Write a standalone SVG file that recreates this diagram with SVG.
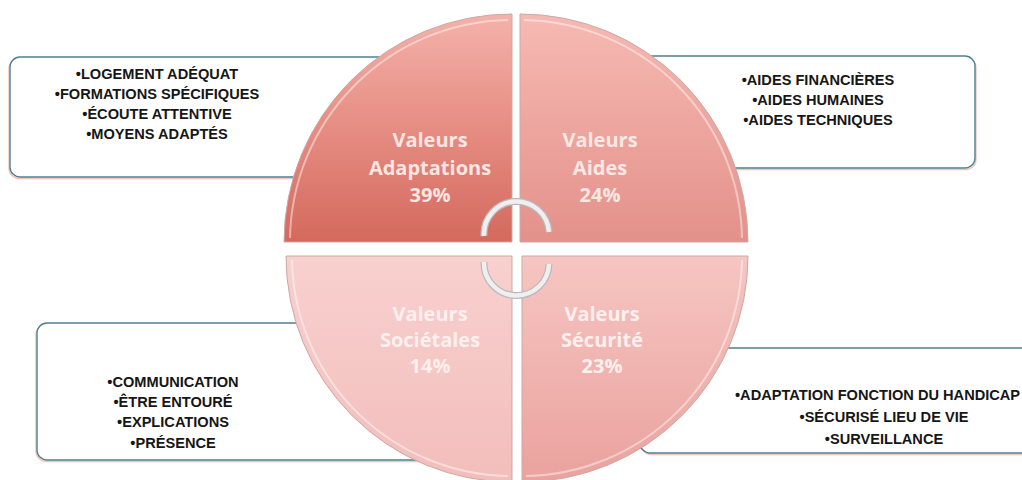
<svg xmlns="http://www.w3.org/2000/svg" width="1022" height="480" viewBox="0 0 1022 480">
<style>
.box{fill:#ffffff;stroke:#50808f;stroke-width:1.4}
.boxsh{fill:none;stroke:#f2c4bc;stroke-width:1.4}
.lst{font-family:"Liberation Sans",Arial,sans-serif;font-weight:bold;font-size:14.6px;fill:#161616;text-anchor:middle}
.qt{font-family:"Open Sans","Liberation Sans",sans-serif;font-weight:bold;font-size:20px;text-anchor:middle}
.edge{stroke:#c9a9a6;stroke-width:1}
.hl{fill:none;stroke:#ffffff;stroke-opacity:0.45;stroke-width:2}
.cyc0{fill:none;stroke:#b7b9c0;stroke-width:7;stroke-linecap:butt}
.cyc1{fill:none;stroke:#f2eeee;stroke-width:4.5;stroke-linecap:butt}
</style>
<defs>
<linearGradient id="gTL" gradientUnits="userSpaceOnUse" x1="0" y1="14" x2="0" y2="242">
<stop offset="0" stop-color="#f4b2aa"/><stop offset="0.5" stop-color="#e68d83"/><stop offset="1" stop-color="#d4695d"/>
</linearGradient>
<linearGradient id="gTR" gradientUnits="userSpaceOnUse" x1="0" y1="14" x2="0" y2="242">
<stop offset="0" stop-color="#f6bab3"/><stop offset="1" stop-color="#e3918a"/>
</linearGradient>
<linearGradient id="gBL" gradientUnits="userSpaceOnUse" x1="0" y1="256" x2="0" y2="480">
<stop offset="0" stop-color="#f8d0ce"/><stop offset="1" stop-color="#f2bebc"/>
</linearGradient>
<linearGradient id="gBR" gradientUnits="userSpaceOnUse" x1="0" y1="256" x2="0" y2="480">
<stop offset="0" stop-color="#f6c6c2"/><stop offset="1" stop-color="#eaa29e"/>
</linearGradient>
</defs>
<rect width="1022" height="480" fill="#ffffff"/>

<g id="box-adaptations">
<rect class="boxsh" x="9" y="58.5" width="400" height="120" rx="10"/>
<rect class="box" x="10" y="57" width="400" height="120" rx="10"/>
<text class="lst" x="157" y="79">•LOGEMENT ADÉQUAT</text>
<text class="lst" x="157" y="99">•FORMATIONS SPÉCIFIQUES</text>
<text class="lst" x="157" y="119">•ÉCOUTE ATTENTIVE</text>
<text class="lst" x="157" y="139">•MOYENS ADAPTÉS</text>
</g>
<g id="box-aides">
<rect class="boxsh" x="621" y="57.5" width="355" height="112" rx="10"/>
<rect class="box" x="620" y="56" width="355" height="112" rx="10"/>
<text class="lst" x="818" y="85">•AIDES FINANCIÈRES</text>
<text class="lst" x="818" y="105">•AIDES HUMAINES</text>
<text class="lst" x="818" y="125">•AIDES TECHNIQUES</text>
</g>
<g id="box-societales">
<rect class="boxsh" x="36" y="324.5" width="410" height="137" rx="10"/>
<rect class="box" x="37" y="323" width="410" height="137" rx="10"/>
<text class="lst" x="173" y="387">•COMMUNICATION</text>
<text class="lst" x="173" y="407">•ÊTRE ENTOURÉ</text>
<text class="lst" x="173" y="427">•EXPLICATIONS</text>
<text class="lst" x="173" y="448">•PRÉSENCE</text>
</g>
<g id="box-securite">
<rect class="boxsh" x="641" y="349.5" width="420" height="105" rx="10"/>
<rect class="box" x="640" y="348" width="420" height="105" rx="10"/>
<text class="lst" x="735" y="400" style="text-anchor:start">•ADAPTATION FONCTION DU HANDICAP</text>
<text class="lst" x="884" y="422">•SÉCURISÉ LIEU DE VIE</text>
<text class="lst" x="884" y="444">•SURVEILLANCE</text>
</g>

<g id="q-adaptations">
<path d="M512,242 L284,242 A228,228 0 0 1 512,14 Z" fill="url(#gTL)" class="edge"/>
<path class="hl" d="M290,238 A222,222 0 0 1 508,20"/>
<text class="qt" x="430" y="147" fill="#fbe6e2">Valeurs</text>
<text class="qt" x="430" y="175" fill="#fbe6e2">Adaptations</text>
<text class="qt" x="430" y="202" fill="#fbe6e2">39%</text>
</g>
<g id="q-aides">
<path d="M520,242 L520,14 A228,228 0 0 1 748,242 Z" fill="url(#gTR)" class="edge"/>
<path class="hl" d="M524,20 A222,222 0 0 1 742,238"/>
<text class="qt" x="600" y="147" fill="#fbe8e5">Valeurs</text>
<text class="qt" x="600" y="175" fill="#fbe8e5">Aides</text>
<text class="qt" x="600" y="202" fill="#fbe8e5">24%</text>
</g>
<g id="q-societales">
<path d="M512,256 L286,256 A226,226 0 0 0 512,482 Z" fill="url(#gBL)" class="edge"/>
<path class="hl" d="M292,260 A220,220 0 0 0 508,476"/>
<text class="qt" x="430" y="321" fill="#fdf0ef">Valeurs</text>
<text class="qt" x="430" y="347" fill="#fdf0ef">Sociétales</text>
<text class="qt" x="430" y="373" fill="#fdf0ef">14%</text>
</g>
<g id="q-securite">
<path d="M522,256 L748,256 A226,226 0 0 1 522,482 Z" fill="url(#gBR)" class="edge"/>
<path class="hl" d="M742,260 A220,220 0 0 1 526,476"/>
<text class="qt" x="602" y="321" fill="#fdf0ef">Valeurs</text>
<text class="qt" x="602" y="347" fill="#fdf0ef">Sécurité</text>
<text class="qt" x="602" y="373" fill="#fdf0ef">23%</text>
</g>

<g id="connectors">
<path class="cyc0" d="M484,236 A32,32 0 0 1 549,232"/>
<path class="cyc1" d="M484,236 A32,32 0 0 1 549,232"/>
<path class="cyc0" d="M549,264 A32,32 0 0 1 484,262"/>
<path class="cyc1" d="M549,264 A32,32 0 0 1 484,262"/>
</g>
</svg>
